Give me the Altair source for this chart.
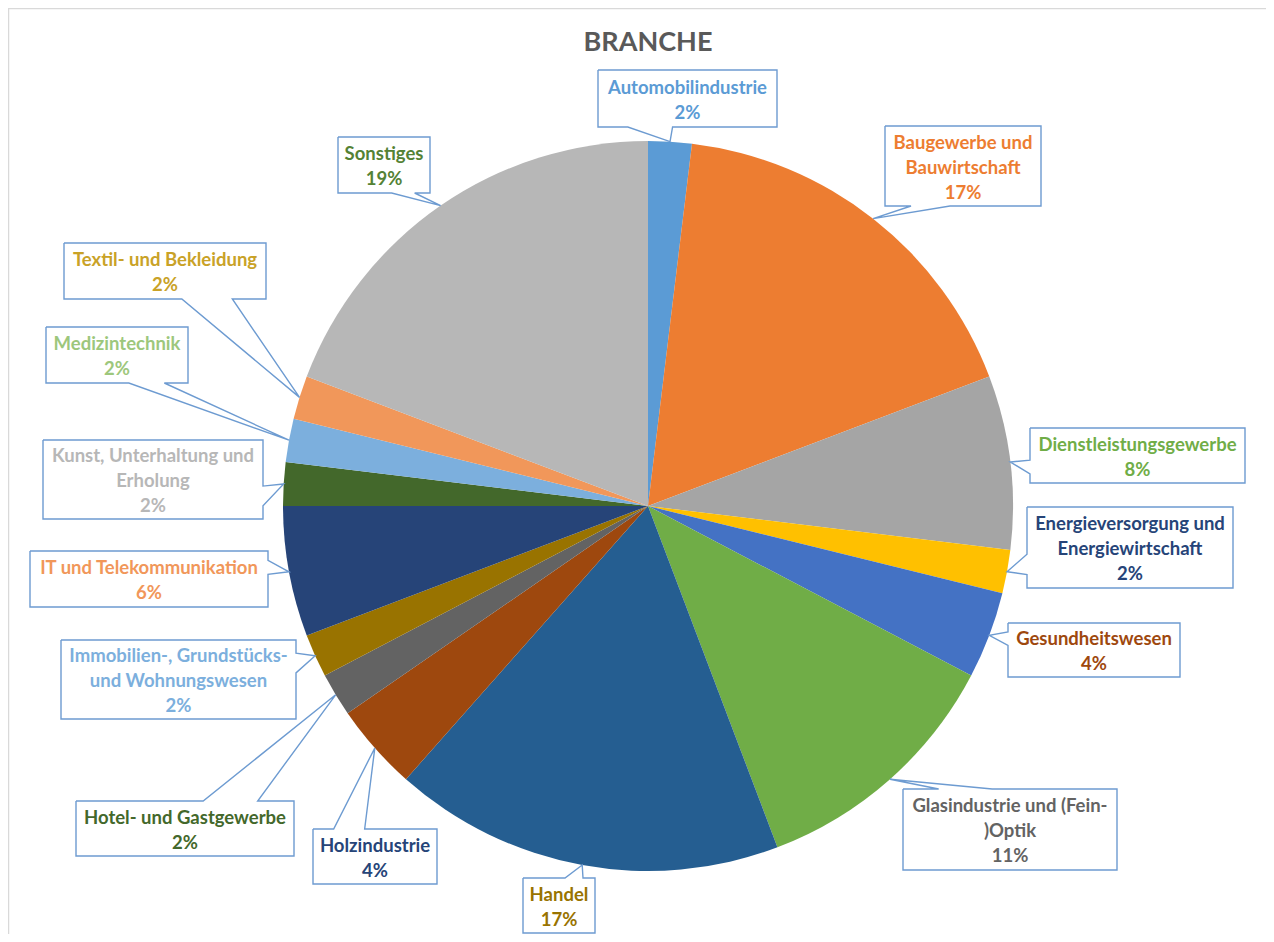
import math
import altair as alt
import pandas as pd

# ---------------- data ----------------
categories = [
    "Automobilindustrie", "Baugewerbe und Bauwirtschaft", "Dienstleistungsgewerbe",
    "Energieversorgung und Energiewirtschaft", "Gesundheitswesen",
    "Glasindustrie und (Fein-)Optik", "Handel", "Holzindustrie", "Hotel- und Gastgewerbe",
    "Immobilien-, Grundstücks- und Wohnungswesen", "IT und Telekommunikation",
    "Kunst, Unterhaltung und Erholung", "Medizintechnik", "Textil- und Bekleidung", "Sonstiges",
]
counts = [1, 9, 4, 1, 2, 6, 9, 2, 1, 1, 3, 1, 1, 1, 10]
percent_labels = ["2%", "17%", "8%", "2%", "4%", "11%", "17%", "4%", "2%", "2%", "6%", "2%", "2%", "2%", "19%"]
label_lines = [
    ["Automobilindustrie"], ["Baugewerbe und", "Bauwirtschaft"], ["Dienstleistungsgewerbe"],
    ["Energieversorgung und", "Energiewirtschaft"], ["Gesundheitswesen"],
    ["Glasindustrie und (Fein-", ")Optik"], ["Handel"], ["Holzindustrie"], ["Hotel- und Gastgewerbe"],
    ["Immobilien-, Grundstücks-", "und Wohnungswesen"], ["IT und Telekommunikation"],
    ["Kunst, Unterhaltung und", "Erholung"], ["Medizintechnik"], ["Textil- und Bekleidung"], ["Sonstiges"],
]

# ---------------- styles ----------------
slice_colors = ["#5B9BD5", "#ED7D31", "#A5A5A5", "#FFC000", "#4472C4", "#70AD47", "#255E91",
                "#9E480E", "#636363", "#997300", "#264478", "#43682B", "#7CAFDD", "#F1975A", "#B7B7B7"]
label_colors = ["#5B9BD5", "#ED7D31", "#70AD47", "#264478", "#9E480E", "#636363", "#997300",
                "#264478", "#43682B", "#7CAFDD", "#F1975A", "#B7B7B7", "#9DC77C", "#C9A227", "#548235"]

# ---------------- layout (callout boxes: centre offset from pie centre in px, size in px) ----------------
box_offsets = [(39.5, -407.5), (315, -340), (489.5, -50.5), (482, 41.5), (446, 144), (362, 323.5),
               (-89, 399.5), (-273, 350.5), (-463, 322.5), (-469.5, 173.5), (-499, 73), (-495, -26.5),
               (-531, -151), (-483, -235), (-264, -341)]
box_sizes = [(179, 57), (156, 80), (215, 55), (206, 81), (172, 54), (214, 81), (72, 55), (124, 55),
             (218, 55), (235, 79), (238, 56), (220, 79), (142, 56), (202, 56), (92, 56)]

W, H = 1258, 926
CX, CY = 640, 498   # pie centre in chart pixels
R = 365.0           # pie radius in px
LH = 25             # label line height
FS = 18.5           # label font size

xs = alt.Scale(domain=[-CX / R, (W - CX) / R], range=[0, W], nice=False, zero=False)
ys = alt.Scale(domain=[(CY - H) / R, CY / R], range=[H, 0], nice=False, zero=False)

total = sum(counts)
pie_df = pd.DataFrame({"cat": categories, "count": counts, "idx": range(len(counts)), "scol": slice_colors})

# tips at the middle of each slice on the rim
cum = 0
tips = []
for c in counts:
    mid = (cum + c / 2) / total * 2 * math.pi
    tips.append((R * math.sin(mid), -R * math.cos(mid)))  # px, y down
    cum += c


def callout_path(cx, cy, w, h, tx, ty):
    x0, x1 = cx - w / 2, cx + w / 2
    y0, y1 = cy - h / 2, cy + h / 2
    dx, dy = tx - cx, ty - cy
    TL, TR, BR, BL = (x0, y0), (x1, y0), (x1, y1), (x0, y1)
    tip = (tx, ty)
    if abs(dy) / h > abs(dx) / w:
        xa, xb = (x0 + w * 7 / 12, x0 + w * 10 / 12) if dx > 0 else (x0 + w * 2 / 12, x0 + w * 5 / 12)
        if dy < 0:
            pts = [TL, (xa, y0), tip, (xb, y0), TR, BR, BL, TL]
        else:
            pts = [TL, TR, BR, (xb, y1), tip, (xa, y1), BL, TL]
    else:
        ya, yb = (y0 + h * 7 / 12, y0 + h * 10 / 12) if dy > 0 else (y0 + h * 2 / 12, y0 + h * 5 / 12)
        if dx > 0:
            pts = [TL, TR, (x1, ya), tip, (x1, yb), BR, BL, TL]
        else:
            pts = [TL, TR, BR, BL, (x0, yb), tip, (x0, ya), TL]
    return pts


path_rows = []
text_rows = []
for i, cat in enumerate(categories):
    cx, cy = box_offsets[i]
    w, h = box_sizes[i]
    tx, ty = tips[i]
    for k, (px, py) in enumerate(callout_path(cx, cy, w, h, tx, ty)):
        path_rows.append({"cat": cat, "ord": k, "u": px / R, "v": -py / R})
    lines = label_lines[i] + [percent_labels[i]]
    first_y = cy + 1.5 - (len(lines) - 1) * LH / 2
    text_rows.append({"cat": cat, "u": cx / R, "v": -first_y / R,
                      "txt": "\n".join(lines), "tcol": label_colors[i]})
path_df = pd.DataFrame(path_rows)
text_df = pd.DataFrame(text_rows)

shadow = alt.Chart(pd.DataFrame({"s": [1]})).mark_arc(
    radius=R + 3, color="#000000", opacity=0.06
).encode(
    x=alt.XDatum(0.0, type="quantitative", scale=xs, axis=None),
    y=alt.YDatum(-3 / R, type="quantitative", scale=ys, axis=None),
    theta=alt.Theta("s:Q"),
)

pie = alt.Chart(pie_df).mark_arc(radius=R).encode(
    x=alt.XDatum(0.0, type="quantitative", scale=xs, axis=None),
    y=alt.YDatum(0.0, type="quantitative", scale=ys, axis=None),
    theta=alt.Theta("count:Q", stack=True),
    order=alt.Order("idx:Q", sort="ascending"),
    color=alt.Color("scol:N", scale=None),
)

boxes = alt.Chart(path_df).mark_line(
    strokeWidth=1.4, color="#6D9BD1", strokeJoin="miter", interpolate="linear"
).encode(
    x=alt.X("u:Q", scale=xs, axis=None),
    y=alt.Y("v:Q", scale=ys, axis=None),
    order=alt.Order("ord:Q"),
    detail="cat:N",
)

labels = alt.Chart(text_df).mark_text(
    font="Lato", fontWeight="bold", fontSize=FS, lineHeight=LH,
    align="center", baseline="middle", lineBreak="\n"
).encode(
    x=alt.X("u:Q", scale=xs, axis=None),
    y=alt.Y("v:Q", scale=ys, axis=None),
    text="txt:N",
    color=alt.Color("tcol:N", scale=None),
)

title = alt.Chart(pd.DataFrame({"t": ["BRANCHE"]})).mark_text(
    font="Lato", fontWeight="bold", fontSize=27, color="#595959", align="center", baseline="middle"
).encode(x=alt.value(CX), y=alt.value(35), text="t:N")

border = alt.Chart(pd.DataFrame({"b": [0]})).mark_rule(color="#D9D9D9", strokeWidth=1.5).encode(
    x=alt.value(0.5), y=alt.value(0), y2=alt.value(H)
) + alt.Chart(pd.DataFrame({"b": [0]})).mark_rule(color="#D9D9D9", strokeWidth=1.5).encode(
    x=alt.value(0), x2=alt.value(W), y=alt.value(0.5)
)

chart = alt.layer(border, shadow, pie, boxes, labels, title).properties(
    width=W, height=H, padding=0, autosize="none"
).configure_view(stroke=None).configure(background="white")

chart.save("out.html", embed_options={"renderer": "svg", "actions": False})
